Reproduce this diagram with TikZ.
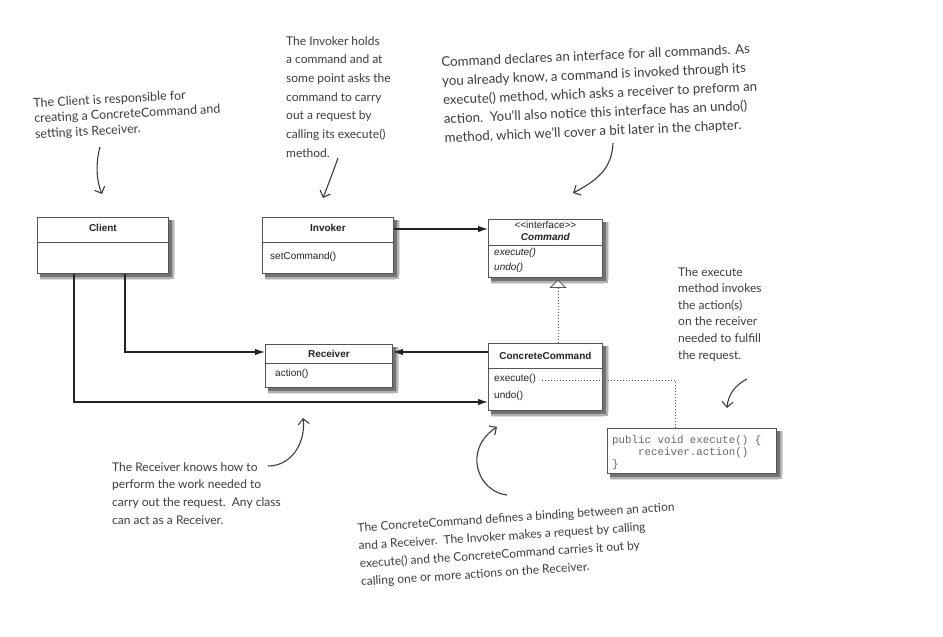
\documentclass[tikz,border=0pt]{standalone}
\usepackage{fontspec}
\setmainfont{Liberation Sans}
\newfontfamily\handfont{Lato}
\newfontfamily\codefont{Liberation Mono}
\usetikzlibrary{arrows.meta,calc}
\pgfdeclarelayer{background}
\pgfsetlayers{background,main}
\definecolor{ink}{HTML}{222222}
\definecolor{handc}{HTML}{3C3C3C}
\definecolor{boxline}{HTML}{555555}
\definecolor{codec}{HTML}{666666}
\newcommand\umlsz{\fontsize{10}{12}\selectfont}
\newcommand\boxshadow[1]{%
  \fill[black!14] ($(#1.north east)+(1,3)$) rectangle ($(#1.south west)+(3,6.5)$);
  \fill[black!14] ($(#1.north east)+(6.5,3)$) rectangle ($(#1.south west)+(3,1)$);
  \fill[black!30] ($(#1.north east)+(5,3)$) rectangle ($(#1.south west)+(3,5)$);
  \fill[black!55] ($(#1.north east)+(3.5,3)$) rectangle ($(#1.south west)+(3,3.5)$);}
\begin{document}
\begin{tikzpicture}[x=1pt,y=-1pt,
  umlbox/.style={draw=boxline, line width=0.8pt, fill=white, inner sep=0pt},
  divider/.style={draw=boxline, line width=0.8pt},
  title/.style={font=\umlsz\bfseries, inner sep=0pt, text=ink},
  member/.style={font=\umlsz, inner sep=0pt, anchor=west, text=ink},
  conn/.style={draw=ink, line width=1.3pt, -{Latex[length=10pt,width=6.5pt]}},
  dots/.style={draw=boxline, line width=0.9pt, dash pattern=on 0.9pt off 2.1pt},
  hand/.style={font=\handfont\fontsize{12}{17}\selectfont, align=left, text=handc, inner sep=0pt, anchor=north west},
  handarrow/.style={draw=handc, line width=1.1pt, -{Straight Barb[length=5.5pt,width=11pt,line width=1.1pt]}}]
\useasboundingbox (0,0) rectangle (943,637);

% ---------- classes ----------
\node[umlbox, anchor=north west, minimum width=131pt, minimum height=56pt] (client) at (37,217) {};
\draw[divider] ($(client.north west)+(0,25)$) -- ($(client.north east)+(0,25)$);
\node[title] (clientT) at ($(client.north)+(0,11)$) {Client};

\node[umlbox, anchor=north west, minimum width=131pt, minimum height=56pt] (invoker) at (262,217) {};
\draw[divider] ($(invoker.north west)+(0,25)$) -- ($(invoker.north east)+(0,25)$);
\node[title] (invokerT) at ($(invoker.north)+(0,11)$) {Invoker};
\node[member] (invokerM) at ($(invoker.north west)+(8,40)$) {setCommand()};

\node[umlbox, anchor=north west, minimum width=114pt, minimum height=58pt] (command) at (488,219) {};
\draw[divider] ($(command.north west)+(0,26)$) -- ($(command.north east)+(0,26)$);
\node[font=\umlsz, inner sep=0pt, text=ink] (commandS) at ($(command.north)+(0,6)$) {<{}<interface>{}>};
\node[title, font=\umlsz\bfseries\itshape] (commandT) at ($(command.north)+(0,18)$) {Command};
\node[member, font=\umlsz\itshape] (commandM1) at ($(command.north west)+(6,34)$) {execute()};
\node[member, font=\umlsz\itshape] (commandM2) at ($(command.north west)+(6,49)$) {undo()};

\node[umlbox, anchor=north west, minimum width=127pt, minimum height=43pt] (receiver) at (265,344) {};
\draw[divider] ($(receiver.north west)+(0,19)$) -- ($(receiver.north east)+(0,19)$);
\node[title] (receiverT) at ($(receiver.north)+(0,9.5)$) {Receiver};
\node[member] (receiverM) at ($(receiver.north west)+(10,30)$) {action()};

\node[umlbox, anchor=north west, minimum width=114pt, minimum height=67pt] (cc) at (488,343) {};
\draw[divider] ($(cc.north west)+(0,25)$) -- ($(cc.north east)+(0,25)$);
\node[title] (ccT) at ($(cc.north)+(0,12.5)$) {ConcreteCommand};
\node[member] (ccM1) at ($(cc.north west)+(6,36)$) {execute()};
\node[member] (ccM2) at ($(cc.north west)+(6,53)$) {undo()};

\node[umlbox, anchor=north west, minimum width=169pt, minimum height=45pt] (code) at (607,428) {};
\node[font=\codefont\fontsize{10.8}{12}\selectfont, text=codec, align=left, inner sep=0pt, anchor=north west] (codeT) at ($(code.north west)+(5,7)$)
  {public void execute() \{\\\phantom{xxxx}receiver.action()\\\}};

\begin{pgfonlayer}{background}
  \boxshadow{client}
  \boxshadow{invoker}
  \boxshadow{command}
  \boxshadow{receiver}
  \boxshadow{cc}
  \boxshadow{code}
\end{pgfonlayer}

% ---------- connectors ----------
\draw[conn] ($(invoker.north east)+(0,12)$) -- ($(command.north west)+(0,10)$);
\draw[conn] ($(client.south west)+(88,0)$) |- ($(receiver.north west)+(0,8)$);
\draw[conn] ($(cc.north west)+(0,9)$) -- ($(receiver.north east)+(0,8)$);
\draw[conn] ($(client.south west)+(37,0)$) |- ($(cc.north west)+(0,59)$);
\draw[dots, -{Triangle[open,length=8pt,width=17pt,line width=0.8pt,fill=white]}] ($(cc.north west)+(70,0)$) -- ($(command.south west)+(70,2)$);
\draw[dots] ($(ccM1.east)+(6,1)$) -| ($(code.north west)+(68,0)$);

% ---------- notes ----------
\node[hand, rotate=3, font=\handfont\fontsize{12.5}{15.5}\selectfont] (noteClient) at (33,98)
  {The Client is responsible for\\creating a ConcreteCommand and\\setting its Receiver.};
\draw[handarrow] (100,147) .. controls (95,165) and (97,182) .. (102,194);

\node[hand, font=\handfont\fontsize{12}{18.7}\selectfont] (noteInvoker) at (286,36)
  {The Invoker holds\\a command and at\\some point asks the\\command to carry\\out a request by\\calling its execute()\\method.};
\draw[handarrow] (338,158) .. controls (333,172) and (328,185) .. (323,198);

\node[hand, rotate=2.5, font=\handfont\fontsize{13.3}{18.9}\selectfont] (noteCommand) at (441,57)
  {Command declares an interface for all commands. As\\you already know, a command is invoked through its\\execute() method, which asks a receiver to preform an\\action.\ \ You'll also notice this interface has an undo()\\method, which we'll cover a bit later in the chapter.};
\draw[handarrow] (613,143) .. controls (612,168) and (598,180) .. (573,193);

\node[hand, font=\handfont\fontsize{12}{16.6}\selectfont] (noteExec) at (678,267)
  {The execute\\method invokes\\the action(s)\\on the receiver\\needed to fulfill\\the request.};
\draw[handarrow] (747,379) .. controls (735,385) and (728,395) .. (727,408);

\node[hand, font=\handfont\fontsize{12}{17.7}\selectfont] (noteReceiver) at (112,462)
  {The Receiver knows how to\\perform the work needed to\\carry out the request.\ \ Any class\\can act as a Receiver.};
\draw[handarrow] (268,466) .. controls (292,466) and (306,442) .. (303,418);

\node[hand, rotate=3.8, font=\handfont\fontsize{12}{18}\selectfont] (noteCC) at (357,523)
  {The ConcreteCommand defines a binding between an action\\and a Receiver.\ \ The Invoker makes a request by calling\\execute() and the ConcreteCommand carries it out by\\calling one or more actions on the Receiver.};
\draw[handarrow] (507,495) .. controls (478,492) and (462,450) .. (497,427);
\end{tikzpicture}
\end{document}
